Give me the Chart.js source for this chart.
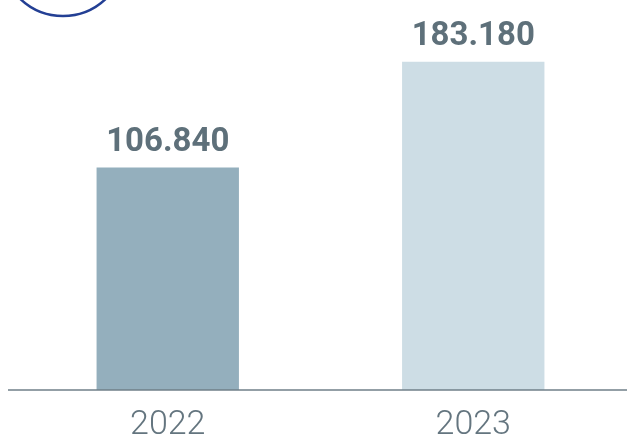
<!DOCTYPE html>
<html>
<head>
<meta charset="utf-8">
<style>
html,body{margin:0;padding:0;background:#fff;}
#wrap{width:627px;height:434px;position:relative;}
</style>
<script src="https://cdn.jsdelivr.net/npm/chart.js@4"></script>
</head>
<body>
<div id="wrap"><canvas id="c" width="627" height="434"></canvas></div>
<script>
const categories = ["2022", "2023"];
const values = [106.840, 183.180];
const valueLabels = ["106.840", "183.180"];
const barColors = ["#94afbd", "#cddde5"];
const axisMin = -53.8;
const axisMax = 227.8;

const deco = {
  id: 'deco',
  beforeDraw(chart) {
    const ctx = chart.ctx;
    ctx.save();
    ctx.strokeStyle = '#233f94';
    ctx.lineWidth = 2.5;
    ctx.beginPath();
    ctx.arc(63, -46, 62, 0, Math.PI * 2);
    ctx.stroke();
    ctx.restore();
  },
  afterDatasetsDraw(chart) {
    const ctx = chart.ctx;
    const y0 = chart.scales.y.getPixelForValue(axisMin);
    ctx.save();
    ctx.strokeStyle = '#6f7f89';
    ctx.lineWidth = 1.5;
    ctx.beginPath();
    ctx.moveTo(8, y0);
    ctx.lineTo(chart.width, y0);
    ctx.stroke();
    const meta = chart.getDatasetMeta(0);
    ctx.fillStyle = '#5e707a';
    ctx.font = 'bold 33px Roboto';
    ctx.textAlign = 'center';
    ctx.textBaseline = 'alphabetic';
    meta.data.forEach((bar, i) => {
      ctx.fillText(valueLabels[i], bar.x, bar.y - 17);
    });
    ctx.restore();
  }
};

new Chart(document.getElementById('c'), {
  type: 'bar',
  data: {
    labels: categories,
    datasets: [{
      data: values,
      base: axisMin,
      backgroundColor: barColors,
      borderWidth: 0,
      categoryPercentage: 1,
      barPercentage: 0.466
    }]
  },
  options: {
    responsive: false,
    animation: false,
    layout: { padding: { left: 15, right: 1, top: 0, bottom: 0 } },
    plugins: { legend: { display: false }, tooltip: { enabled: false } },
    scales: {
      x: {
        grid: { display: false, drawTicks: false },
        border: { display: false },
        ticks: {
          color: '#64757f',
          font: { family: 'Roboto', size: 34, weight: '300' },
          padding: 15
        },
        afterFit(s) { s.height = 44; }
      },
      y: {
        display: false,
        min: axisMin,
        max: axisMax
      }
    }
  },
  plugins: [deco]
});
</script>
</body>
</html>
